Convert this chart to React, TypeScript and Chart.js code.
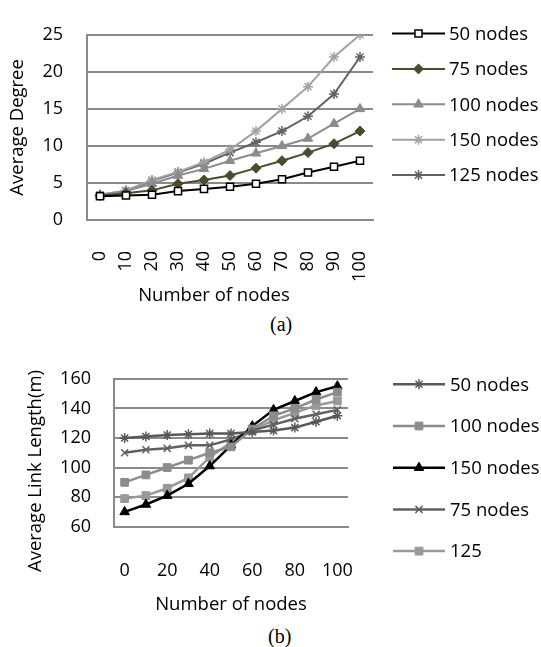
import React, { useEffect, useRef } from 'react';
import { Chart, registerables } from 'chart.js';
import { drawPoint } from 'chart.js/helpers';

Chart.register(...registerables);

// ---------- data ----------
const nodeCategories = ['0', '10', '20', '30', '40', '50', '60', '70', '80', '90', '100'];

// (a) Average Degree
const degree50 = [3.2, 3.3, 3.4, 3.9, 4.2, 4.5, 4.9, 5.5, 6.4, 7.2, 8.0];
const degree75 = [3.3, 3.6, 4.0, 4.9, 5.4, 6.0, 7.0, 8.0, 9.1, 10.3, 12.0];
const degree100 = [3.3, 3.9, 4.9, 6.0, 6.9, 8.0, 9.0, 10.0, 11.0, 13.0, 15.0];
const degree150 = [3.4, 4.0, 5.4, 6.5, 7.8, 9.5, 12.0, 15.0, 18.0, 22.0, 25.0];
const degree125 = [3.4, 3.9, 5.3, 6.4, 7.6, 9.1, 10.5, 12.0, 14.0, 17.0, 22.0];
const degreeTicks = { min: 0, max: 25, step: 5 };

// (b) Average Link Length
const link50 = [120, 121, 122, 122.5, 123, 123, 124, 125, 127, 131, 135];
const link100 = [90, 95, 100, 105, 110, 114, 126, 135, 140, 146, 151];
const link150 = [70, 75, 81, 89, 101, 115, 128, 139, 145, 151, 155];
const link75 = [110, 112, 113, 115, 115, 119, 125, 129, 133, 136, 139];
const link125 = [79, 81, 86, 93, 107, 117, 125, 132, 137, 142, 145];
const linkTicks = { min: 60, max: 160, step: 20 };

const FONT = '"Open Sans", "DejaVu Sans", sans-serif';
const GRID = '#8a8a8a';

// ---------- plugin: titles + legend ----------
const extrasPlugin = {
  id: 'extras',
  afterDraw(chart: any, _args: any, opts: any) {
    const ctx = chart.ctx as CanvasRenderingContext2D;
    const ca = chart.chartArea;
    ctx.save();
    ctx.fillStyle = '#000';
    ctx.font = `${opts.fontSize}px ${FONT}`;
    ctx.textAlign = 'center';
    ctx.textBaseline = 'middle';
    // x title
    ctx.fillText(opts.xTitle, (ca.left + ca.right) / 2 + opts.xTitleDx, opts.xTitleY);
    // y title
    ctx.save();
    ctx.translate(opts.yTitleX, (ca.top + ca.bottom) / 2 + opts.yTitleDy);
    ctx.rotate(-Math.PI / 2);
    ctx.fillText(opts.yTitle, 0, 0);
    ctx.restore();
    // legend
    chart.data.datasets.forEach((ds: any, i: number) => {
      const y = opts.legendY + i * opts.legendDy;
      const x0 = opts.legendX;
      const x1 = opts.legendX + opts.legendW;
      ctx.save();
      ctx.strokeStyle = ds.borderColor;
      ctx.lineWidth = ds.borderWidth;
      ctx.beginPath();
      ctx.moveTo(x0, y);
      ctx.lineTo(x1, y);
      ctx.stroke();
      ctx.fillStyle = ds.pointBackgroundColor;
      ctx.strokeStyle = ds.pointBorderColor;
      ctx.lineWidth = ds.pointBorderWidth;
      drawPoint(ctx, { pointStyle: ds.pointStyle, radius: ds.pointRadius, borderWidth: ds.pointBorderWidth, rotation: 0 } as any, (x0 + x1) / 2, y);
      ctx.restore();
      ctx.fillStyle = '#000';
      ctx.textAlign = 'left';
      ctx.textBaseline = 'middle';
      ctx.font = `${opts.fontSize}px ${FONT}`;
      ctx.fillText(ds.label, x1 + opts.legendGap, y + 1);
    });
    ctx.restore();
  },
};

function series(label: string, data: number[], color: string, style: string, radius: number, fill: string, bw: number, lw: number) {
  return {
    label,
    data,
    borderColor: color,
    backgroundColor: color,
    borderWidth: lw,
    pointStyle: style,
    pointRadius: radius,
    pointHoverRadius: radius,
    pointBackgroundColor: fill,
    pointBorderColor: color,
    pointBorderWidth: bw,
    tension: 0,
  };
}

function useChart(ref: React.RefObject<HTMLCanvasElement>, makeConfig: () => any) {
  useEffect(() => {
    if (!ref.current) return;
    const chart = new Chart(ref.current, makeConfig());
    return () => chart.destroy();
  }, []);
}

export default function App() {
  const refA = useRef<HTMLCanvasElement>(null);
  const refB = useRef<HTMLCanvasElement>(null);

  useChart(refA, () => ({
    type: 'line',
    data: {
      labels: nodeCategories,
      datasets: [
        series('50 nodes', degree50, '#000000', 'rect', 5, '#ffffff', 1.5, 2),
        series('75 nodes', degree75, '#4e4a2e', 'rectRot', 5, '#4e4a2e', 1, 2),
        series('100 nodes', degree100, '#8c8c8c', 'triangle', 5.5, '#8c8c8c', 1, 2),
        series('150 nodes', degree150, '#a2a2a2', 'star', 5, '#a2a2a2', 1.5, 2),
        series('125 nodes', degree125, '#626262', 'star', 5, '#626262', 1.5, 2),
      ],
    },
    options: {
      responsive: false,
      animation: false,
      devicePixelRatio: 1,
      layout: { padding: { top: 17, right: 168, left: 0, bottom: 0 } },
      scales: {
        x: {
          type: 'category',
          offset: true,
          grid: { display: false },
          border: { display: true, color: GRID, width: 2 },
          ticks: {
            minRotation: 90,
            maxRotation: 90,
            autoSkip: false,
            padding: 23,
            color: '#000',
            font: { family: FONT, size: 18 },
          },
          afterFit: (s: any) => { s.height = 90; },
        },
        y: {
          min: degreeTicks.min,
          max: degreeTicks.max,
          grid: { color: GRID, lineWidth: 2, drawTicks: false },
          border: { display: true, color: GRID, width: 2 },
          ticks: {
            stepSize: degreeTicks.step,
            padding: 24,
            color: '#000',
            font: { family: FONT, size: 18 },
          },
          afterFit: (s: any) => { s.width = 87; },
        },
      },
      plugins: {
        legend: { display: false },
        tooltip: { enabled: false },
        extras: {
          fontSize: 18.5,
          xTitle: 'Number of nodes',
          xTitleDx: -16,
          xTitleY: 295.5,
          yTitle: 'Average Degree',
          yTitleX: 17.5,
          yTitleDy: 0,
          legendX: 392,
          legendW: 53,
          legendGap: 4,
          legendY: 33.5,
          legendDy: 35.4,
        },
      },
    },
    plugins: [extrasPlugin],
  }));

  useChart(refB, () => ({
    type: 'line',
    data: {
      labels: nodeCategories,
      datasets: [
        series('50 nodes', link50, '#585858', 'star', 5, '#585858', 1.5, 2.5),
        series('100 nodes', link100, '#8c8c8c', 'rect', 5.5, '#8c8c8c', 1, 2.5),
        series('150 nodes', link150, '#000000', 'triangle', 5.5, '#000000', 1, 2.5),
        series('75 nodes', link75, '#606060', 'crossRot', 5, '#606060', 1.5, 2.5),
        series('125', link125, '#999999', 'rect', 5.5, '#999999', 1, 2.5),
      ],
    },
    options: {
      responsive: false,
      animation: false,
      devicePixelRatio: 1,
      layout: { padding: { top: 18.7, right: 193, left: 0, bottom: 0 } },
      scales: {
        x: {
          type: 'category',
          offset: true,
          grid: { display: false },
          border: { display: true, color: GRID, width: 2 },
          ticks: {
            autoSkip: false,
            maxRotation: 0,
            minRotation: 0,
            padding: 25,
            color: '#000',
            font: { family: FONT, size: 18 },
            callback: function (this: any, val: any, idx: number) {
              return idx % 2 === 0 ? this.getLabelForValue(val) : '';
            },
          },
          afterFit: (s: any) => { s.height = 93.3; },
        },
        y: {
          min: linkTicks.min,
          max: linkTicks.max,
          grid: { color: GRID, lineWidth: 2, drawTicks: false },
          border: { display: true, color: GRID, width: 2 },
          ticks: {
            stepSize: linkTicks.step,
            padding: 23,
            color: '#000',
            font: { family: FONT, size: 18 },
          },
          afterFit: (s: any) => { s.width = 114; },
        },
      },
      plugins: {
        legend: { display: false },
        tooltip: { enabled: false },
        extras: {
          fontSize: 18.5,
          xTitle: 'Number of nodes',
          xTitleDx: 0,
          xTitleY: 260,
          yTitle: 'Average Link Length(m)',
          yTitleX: 35.5,
          yTitleDy: 18.3,
          legendX: 393,
          legendW: 52,
          legendGap: 5,
          legendY: 39.3,
          legendDy: 41.7,
        },
      },
    },
    plugins: [extrasPlugin],
  }));

  const caption: React.CSSProperties = {
    position: 'absolute',
    fontFamily: '"Liberation Serif", "Times New Roman", serif',
    fontSize: 20,
    lineHeight: 1,
    color: '#000',
  };

  return (
    <div style={{ position: 'absolute', left: 0, top: 0, width: 541, height: 647, background: '#fff' }}>
      <canvas ref={refA} width={541} height={310} style={{ position: 'absolute', left: 0, top: 0 }} />
      <div style={{ ...caption, left: 270, top: 314 }}>(a)</div>
      <canvas ref={refB} width={541} height={275} style={{ position: 'absolute', left: 0, top: 345 }} />
      <div style={{ ...caption, left: 268, top: 626 }}>(b)</div>
    </div>
  );
}
